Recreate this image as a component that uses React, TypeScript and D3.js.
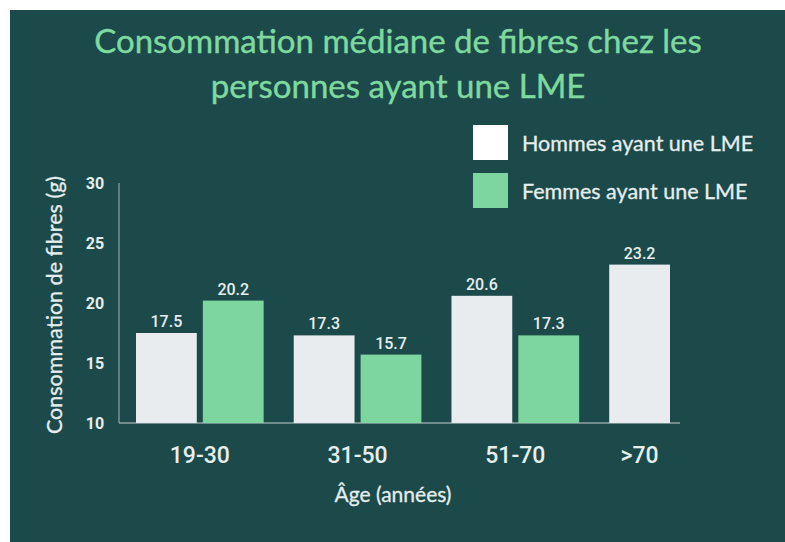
import * as d3 from "d3";
import { useRef, useEffect } from "react";

const groups = ["19-30", "31-50", "51-70", ">70"];
const hommes = [17.5, 17.3, 20.6, 23.2];
const femmes = [20.2, 15.7, 17.3, null];
const yTicks = [10, 15, 20, 25, 30];
const seriesNames = ["Hommes ayant une LME", "Femmes ayant une LME"];
const seriesColors = ["#e8ecee", "#7dd6a0"];

const titleLines = ["Consommation médiane de fibres chez les", "personnes ayant une LME"];

function App() {
  const svgRef = useRef(null);
  const width = 785;
  const height = 542;

  useEffect(() => {
    const svg = d3.select(svgRef.current);
    svg.selectAll("*").remove();

    svg
      .append("rect")
      .attr("x", 10)
      .attr("y", 10)
      .attr("width", width - 10)
      .attr("height", height - 10)
      .attr("fill", "#1c4a4b");

    svg
      .selectAll(".title")
      .data(titleLines)
      .join("text")
      .attr("class", "title")
      .attr("x", 398)
      .attr("y", (d, i) => 53 + i * 45)
      .attr("text-anchor", "middle")
      .attr("fill", "#7fd99f")
      .attr("stroke", "#7fd99f")
      .attr("stroke-width", 0.4)
      .style("font-family", "Lato")
      .style("font-size", "33px")
      .text((d) => d);

    // build the list of bars, each group followed by a wider gap
    const bars = [];
    groups.forEach((g, gi) => {
      if (hommes[gi] != null) bars.push({ key: g + "|H", group: gi, value: hommes[gi], s: 0 });
      if (femmes[gi] != null) bars.push({ key: g + "|F", group: gi, value: femmes[gi], s: 1 });
    });

    const barW = 60;
    const innerGap = 6;
    const groupGap = 24;
    const left = 136;
    const xBand = d3
      .scaleBand()
      .domain(bars.map((b) => b.key))
      .range([left, left + bars.length * (barW + innerGap)])
      .paddingInner(innerGap / (barW + innerGap))
      .paddingOuter(0)
      .align(0);
    const xPos = (b) => xBand(b.key) + b.group * groupGap;

    const y = d3.scaleLinear().domain([10, 30]).range([423, 183]);

    // axes lines
    svg
      .append("line")
      .attr("x1", 119)
      .attr("x2", 119)
      .attr("y1", y(30))
      .attr("y2", y(10))
      .attr("stroke", "#8fa3a3")
      .attr("stroke-width", 1.2);
    svg
      .append("line")
      .attr("x1", 119)
      .attr("x2", 680)
      .attr("y1", y(10))
      .attr("y2", y(10))
      .attr("stroke", "#8fa3a3")
      .attr("stroke-width", 1.5);

    svg
      .selectAll(".ytick")
      .data(yTicks)
      .join("text")
      .attr("class", "ytick")
      .attr("x", 95)
      .attr("y", (d) => y(d))
      .attr("dy", "0.36em")
      .attr("text-anchor", "middle")
      .attr("fill", "#e6eeee")
      .style("font-family", "Roboto")
      .style("font-weight", "bold")
      .style("font-size", "16px")
      .text((d) => d);

    svg
      .selectAll(".bar")
      .data(bars)
      .join("rect")
      .attr("class", "bar")
      .attr("x", (d) => xPos(d))
      .attr("y", (d) => y(d.value))
      .attr("width", xBand.bandwidth())
      .attr("height", (d) => y(10) - y(d.value))
      .attr("fill", (d) => seriesColors[d.s]);

    svg
      .selectAll(".val")
      .data(bars)
      .join("text")
      .attr("class", "val")
      .attr("x", (d) => xPos(d) + xBand.bandwidth() / 2)
      .attr("y", (d) => y(d.value) - 6)
      .attr("text-anchor", "middle")
      .attr("fill", "#e6eeee")
      .style("font-family", "Roboto")
      .style("font-weight", "500")
      .style("font-size", "16px")
      .text((d) => d.value.toFixed(1));

    // group labels centred under their bars
    const groupCenters = groups.map((g, gi) => {
      const gb = bars.filter((b) => b.group === gi);
      const x0 = d3.min(gb, (b) => xPos(b));
      const x1 = d3.max(gb, (b) => xPos(b) + xBand.bandwidth());
      return { g, cx: (x0 + x1) / 2 };
    });
    svg
      .selectAll(".xlab")
      .data(groupCenters)
      .join("text")
      .attr("class", "xlab")
      .attr("x", (d) => d.cx)
      .attr("y", 463)
      .attr("text-anchor", "middle")
      .attr("fill", "#e6eeee")
      .style("font-family", "Roboto")
      .style("font-weight", "500")
      .style("font-size", "23px")
      .text((d) => d.g);

    svg
      .append("text")
      .attr("x", 393)
      .attr("y", 502)
      .attr("text-anchor", "middle")
      .attr("fill", "#e6eeee")
      .attr("stroke", "#e6eeee")
      .attr("stroke-width", 0.3)
      .style("font-family", "Lato")
      .style("font-size", "21px")
      .text("Âge (années)");

    svg
      .append("text")
      .attr("transform", "translate(62,305) rotate(-90)")
      .attr("text-anchor", "middle")
      .attr("fill", "#e6eeee")
      .attr("stroke", "#e6eeee")
      .attr("stroke-width", 0.3)
      .style("font-family", "Lato")
      .style("font-size", "21.5px")
      .text("Consommation de fibres (g)");

    // legend
    const legend = svg
      .selectAll(".leg")
      .data(seriesNames)
      .join("g")
      .attr("class", "leg")
      .attr("transform", (d, i) => `translate(473,${125 + i * 48})`);
    legend
      .append("rect")
      .attr("width", 35)
      .attr("height", 35)
      .attr("fill", (d, i) => (i === 0 ? "#ffffff" : seriesColors[1]));
    legend
      .append("text")
      .attr("x", 49)
      .attr("y", 26)
      .attr("fill", "#e6eeee")
      .attr("stroke", "#e6eeee")
      .attr("stroke-width", 0.3)
      .style("font-family", "Lato")
      .style("font-size", "21.5px")
      .text((d) => d);
  }, []);

  return (
    <svg
      ref={svgRef}
      width={width}
      height={height}
      style={{ position: "absolute", left: 0, top: 0, background: "#ffffff" }}
    ></svg>
  );
}

export default App;
